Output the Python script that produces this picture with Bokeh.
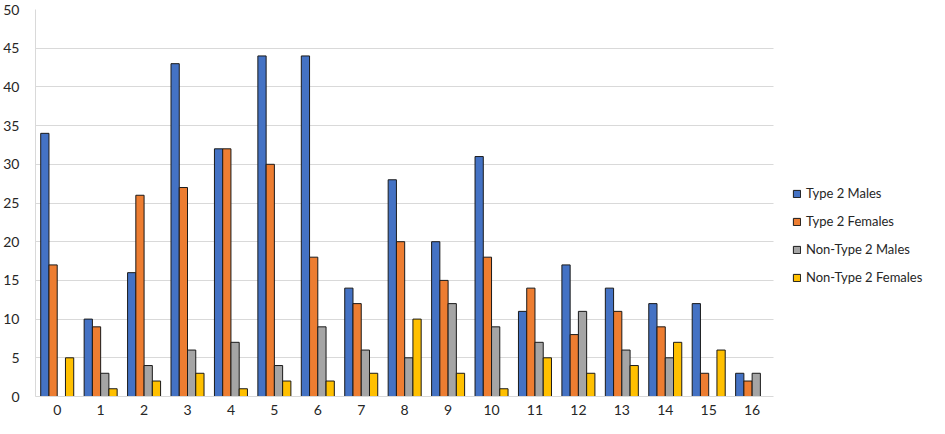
from bokeh.plotting import figure
from bokeh.models import ColumnDataSource, Range1d, Legend, LegendItem, SingleIntervalTicker, FixedTicker
from bokeh.transform import dodge
from bokeh.embed import file_html
from bokeh.resources import INLINE
import math

categories = list(range(17))
t2_males = [34, 10, 16, 43, 32, 44, 44, 14, 28, 20, 31, 11, 17, 14, 12, 12, 3]
t2_females = [17, 9, 26, 27, 32, 30, 18, 12, 20, 15, 18, 14, 8, 11, 9, 3, 2]
nt2_males = [0, 3, 4, 6, 7, 4, 9, 6, 5, 12, 9, 7, 11, 6, 5, 0, 3]
nt2_females = [5, 1, 2, 3, 1, 2, 2, 3, 10, 3, 1, 5, 3, 4, 7, 6, 0]
series_names = ["Type 2 Males", "Type 2 Females", "Non-Type 2 Males", "Non-Type 2 Females"]
colors = ["#4472C4", "#ED7D31", "#A5A5A5", "#FFC000"]

def nz(vals):
    return [v if v > 0 else math.nan for v in vals]

source = ColumnDataSource(dict(
    cat=categories,
    a=nz(t2_males), b=nz(t2_females), c=nz(nt2_males), d=nz(nt2_females),
))

FONT = "Lato"
TXT = "#262626"

W, H = 929, 418
LEFT = 33
data_w = 740.0  # pixel width of the category area
x_start = categories[0] - 0.5
x_stop = categories[-1] + 0.5
px_per_unit = data_w / (x_stop - x_start)
x_end = x_start + (W - LEFT) / px_per_unit

p = figure(x_range=Range1d(x_start, x_end), y_range=Range1d(0, 50),
           width=W, height=H, output_backend="svg", toolbar_location=None,
           min_border_left=LEFT, min_border_right=0, min_border_top=9, min_border_bottom=22)
p.outline_line_color = None

w = 0.19
offsets = [-1.5 * w, -0.5 * w, 0.5 * w, 1.5 * w]
renderers = []
for key, off, col in zip(["a", "b", "c", "d"], offsets, colors):
    r = p.vbar(x=dodge("cat", off), top=key, width=w, source=source,
               fill_color=col, line_color="#1a1a1a", line_width=1)
    renderers.append(r)

p.yaxis.ticker = SingleIntervalTicker(interval=5)
p.xaxis.ticker = FixedTicker(ticks=categories)
p.ygrid.grid_line_color = "#d9d9d9"
p.ygrid.grid_line_width = 1
p.ygrid.cross_bounds = (x_start, x_stop)
p.xgrid.grid_line_color = None
p.xaxis.bounds = (x_start, x_stop)

for ax in (p.xaxis, p.yaxis):
    ax.major_tick_out = 0
    ax.major_tick_in = 0
    ax.major_tick_line_color = None
    ax.minor_tick_line_color = None
    ax.major_label_text_font = FONT
    ax.major_label_text_font_size = "14px"
    ax.major_label_text_color = TXT
    ax.axis_line_color = "#d9d9d9"
p.xaxis.major_label_standoff = 8
p.yaxis.major_label_standoff = 12

legend = Legend(items=[LegendItem(label=n, renderers=[r]) for n, r in zip(series_names, renderers)],
                location=(757, 111), orientation="vertical",
                glyph_width=9, glyph_height=9, label_standoff=5, spacing=12,
                label_text_font=FONT, label_text_font_size="13px", label_text_color=TXT,
                label_height=14, padding=0, margin=0,
                border_line_color=None, background_fill_alpha=0)
p.add_layout(legend)

open("out.html", "w").write(file_html(p, INLINE))
